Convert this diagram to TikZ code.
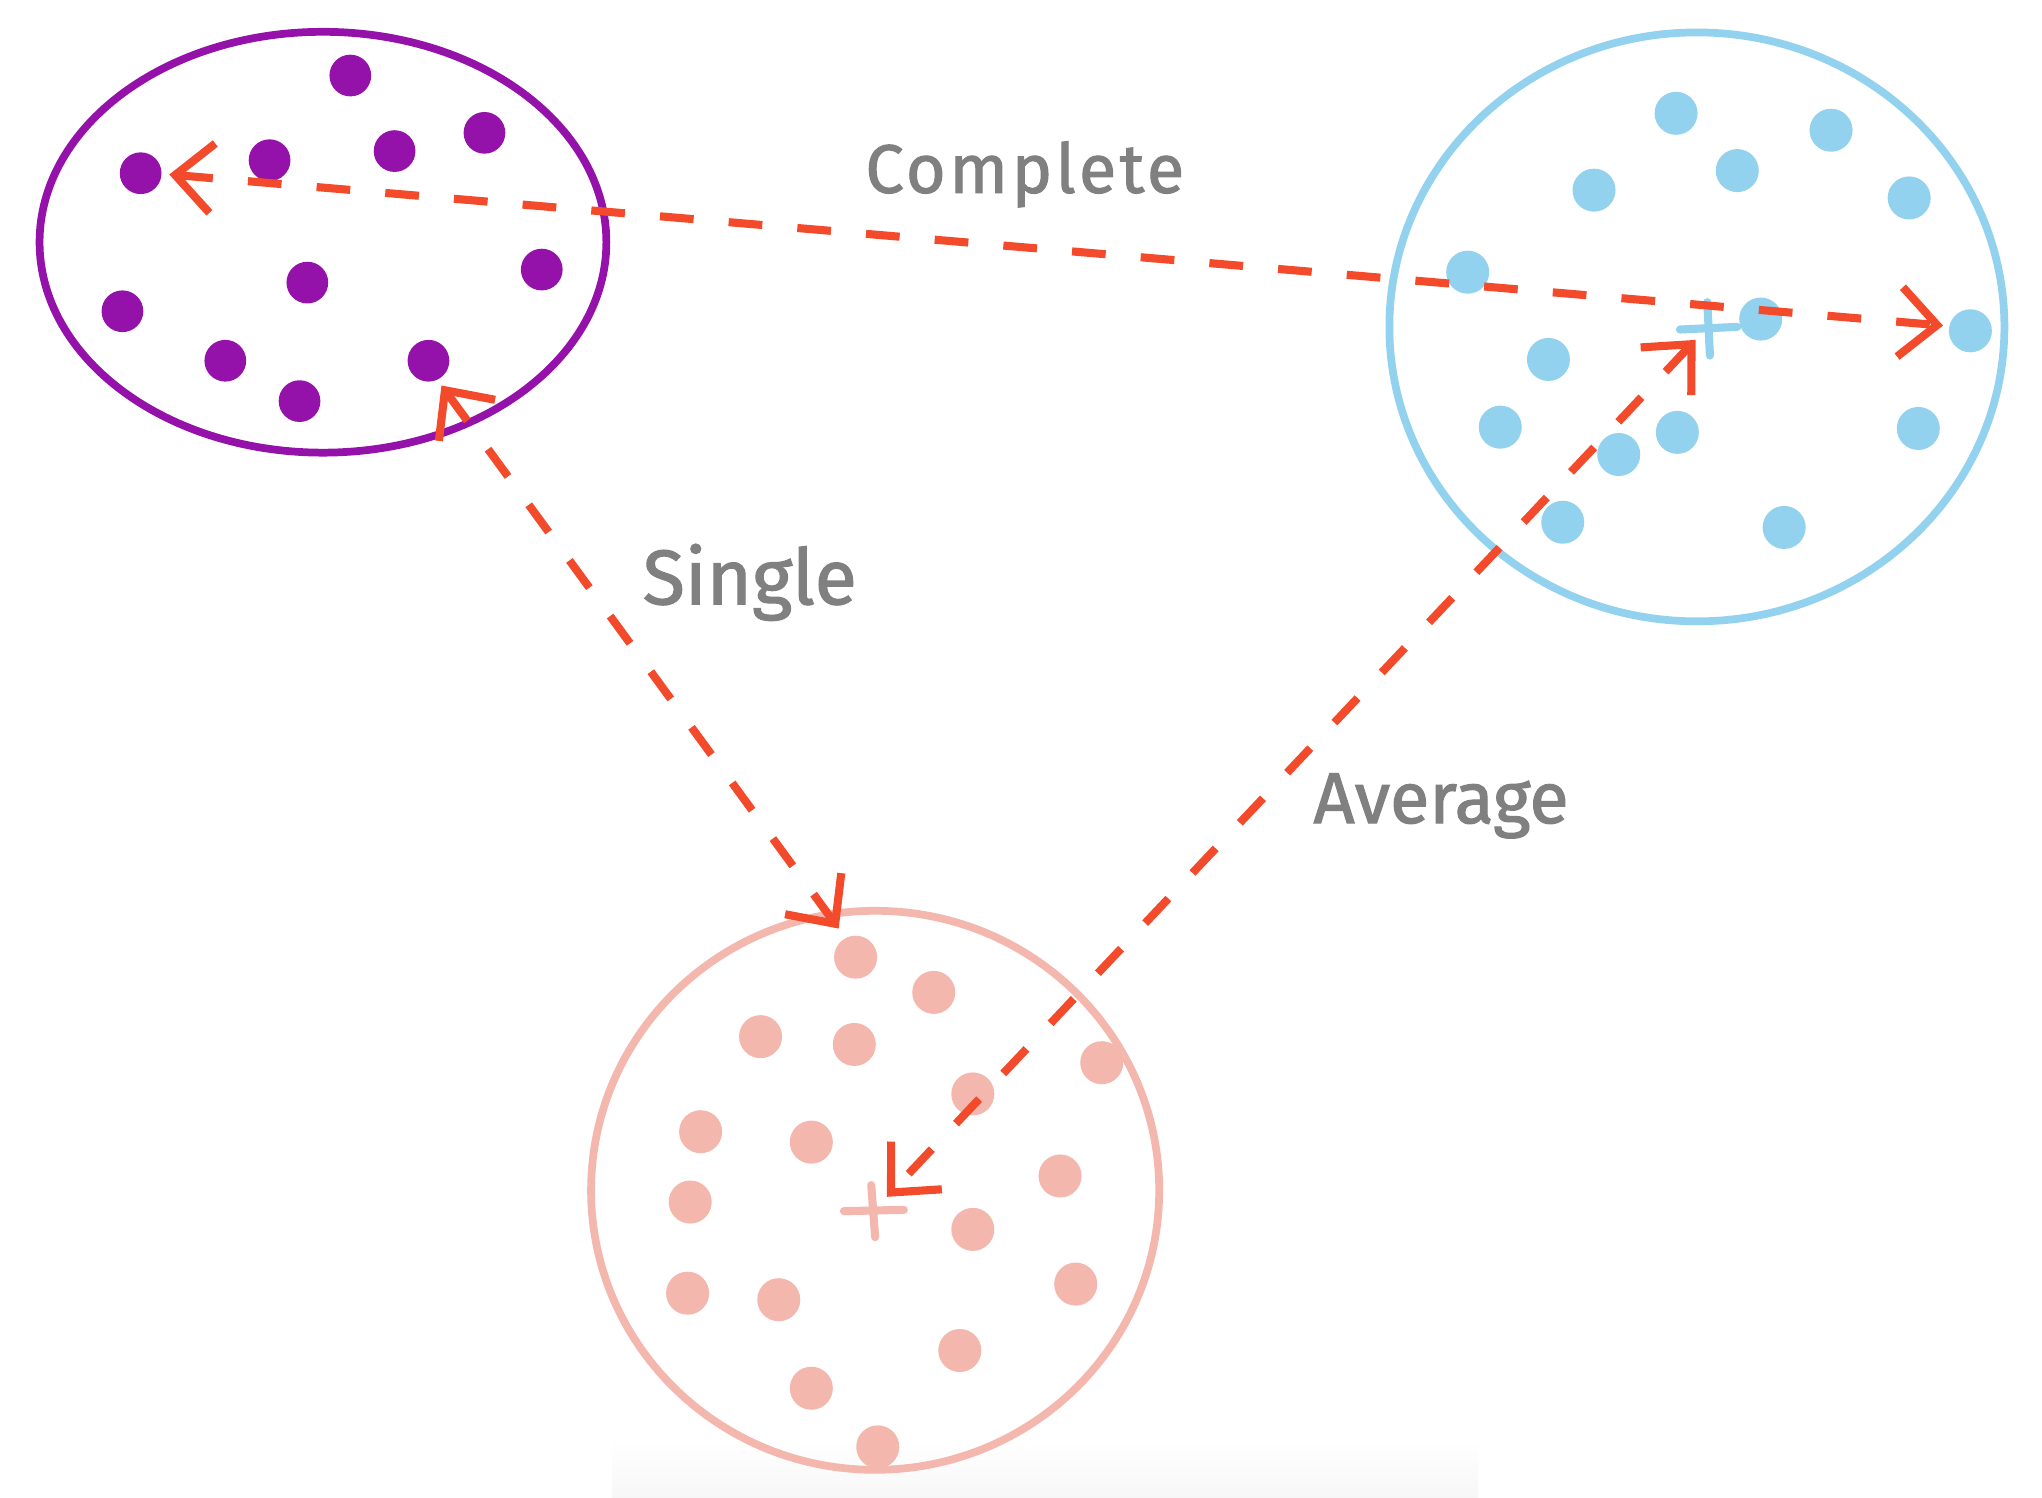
\documentclass[tikz,border=0pt]{standalone}
\usepackage{fontspec}
\newfontfamily\handfont[FakeBold=1.5]{Fira Sans}
\newfontfamily\handwidefont[FakeBold=1.5,LetterSpace=5]{Fira Sans}
\usepackage{xcolor}
\definecolor{ClusterPurple}{HTML}{9412AA}
\definecolor{ClusterBlue}{HTML}{93D2EE}
\definecolor{ClusterPink}{HTML}{F4B7AE}
\definecolor{LinkRed}{HTML}{F24A2A}
\definecolor{LabelGray}{HTML}{808080}
\usetikzlibrary{arrows.meta,shapes.geometric}

\begin{document}
\begin{tikzpicture}[
    x=0.013023cm,y=-0.013023cm,
    cluster/.style={ellipse,draw,line width=2.2pt,inner sep=0pt},
    pt/.style={circle,inner sep=0pt,minimum size=0.43cm},
    link/.style={{Straight Barb[length=10.6pt,width=19.8pt,sharp]}-{Straight Barb[length=10.6pt,width=19.8pt,sharp]},
      LinkRed,line width=2.3pt,dash pattern=on 9.6pt off 10pt},
    lbl/.style={LabelGray,anchor=base west,inner sep=0pt},
    centre/.style={line width=2.3pt,line cap=round}
  ]
    \useasboundingbox (0,0) rectangle (1568,1150);
    \fill[white] (0,0) rectangle (1568,1150);
    \shade[top color=white,bottom color=black!3] (470,1105) rectangle (1135,1150);

    \node[cluster,draw=ClusterPurple,minimum width=5.665cm,minimum height=4.206cm] (purple) at (248,186) {};
    \node[cluster,draw=ClusterBlue,minimum width=6.147cm,minimum height=5.886cm] (blue) at (1303,251) {};
    \node[cluster,draw=ClusterPink,minimum width=5.678cm,minimum height=5.587cm] (pink) at (672,914) {};

    \foreach \x/\y [count=\i] in {269/58,207/123,303/116,372/102,108/133,236/217,
        416/207,94/239,173/277,230/308,329/277}
      \node[pt,fill=ClusterPurple,minimum size=0.417cm] (p\i) at (\x,\y) {};
    \foreach \x/\y [count=\i] in {1287/87,1406/100,1334/131,1224/146,1466/152,
        1127/209,1352/245,1513/254,1189/276,1152/328,1243/349,1288/332,1473/329,
        1200/401,1370/405}
      \node[pt,fill=ClusterBlue] (b\i) at (\x,\y) {};
    \foreach \x/\y [count=\i] in {657/735,717/762,584/796,656/802,747/840,846/816,
        538/869,623/877,530/923,814/903,747/944,528/993,598/998,826/986,737/1037,
        623/1066,674/1111}
      \node[pt,fill=ClusterPink] (k\i) at (\x,\y) {};

    % centroids
    \coordinate (bcent) at (1312,252);
    \coordinate (kcent) at (671,930);
    \draw[centre,ClusterBlue] (1290,253) -- (1334,251) (1311,232) -- (1313,273);
    \draw[centre,ClusterPink] (648,930) -- (694,929) (669,910) -- (672,950);

    \coordinate (cmp-a) at (130,134);
    \coordinate (cmp-b) at (1492,250);
    \coordinate (sgl-a) at (339,296);
    \coordinate (sgl-b) at (644,713);
    \coordinate (avg-a) at (1302,261);
    \coordinate (avg-b) at (681,919);

    \draw[link] (cmp-a) -- (cmp-b);
    \draw[link] (sgl-a) -- (sgl-b);
    \draw[link] (avg-a) -- (avg-b);

    \node[lbl,font=\handwidefont\fontsize{19.5}{23}\selectfont] (complete) at (664,148) {Complete};
    \node[lbl,font=\handfont\fontsize{22}{26}\selectfont] (single) at (493,464) {Single};
    \node[lbl,font=\handfont\fontsize{20.5}{24}\selectfont] (average) at (1008,632) {Average};
  \end{tikzpicture}
\end{document}
